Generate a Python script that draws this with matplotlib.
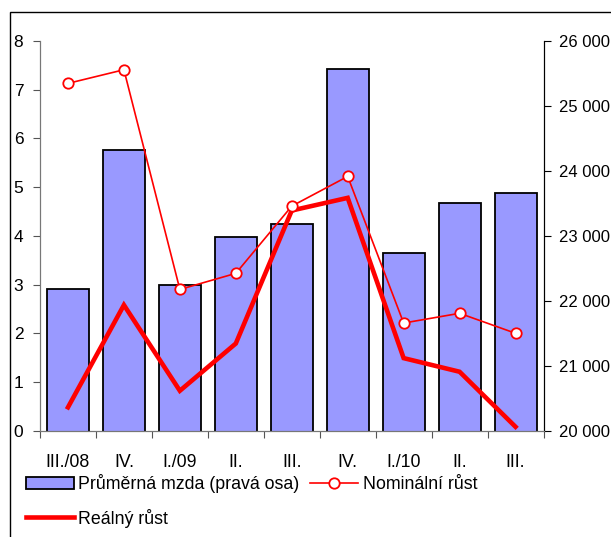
import numpy as np
import matplotlib
matplotlib.use('Agg')
import matplotlib.pyplot as plt
from matplotlib.patches import Rectangle

plt.rcParams['font.family'] = ['Liberation Sans', 'DejaVu Sans']
plt.rcParams['font.size'] = 12.8

quarters = ['III./08', 'IV.', 'I./09', 'II.', 'III.', 'IV.', 'I./10', 'II.', 'III.']
mzda = [22180, 24320, 22240, 22980, 23190, 25570, 22730, 23500, 23655]
nominalni = [7.13, 7.41, 2.90, 3.23, 4.61, 5.22, 2.21, 2.41, 2.00]
realny = [0.48, 2.58, 0.82, 1.79, 4.52, 4.78, 1.49, 1.21, 0.08]

W, H = 611, 537
fig = plt.figure(figsize=(W / 100, H / 100), dpi=100)
x0, x1, y0, y1 = 40, 543.5, 41, 430.7
ax = fig.add_axes([x0 / W, 1 - y1 / H, (x1 - x0) / W, (y1 - y0) / H])
ax2 = ax.twinx()

x = np.arange(len(quarters))

# bars on the right-hand axis
bars = ax.bar(x, mzda, width=0.75, bottom=0, color='#9999FF', edgecolor='black',
              linewidth=1.3, label='Průměrná mzda (pravá osa)')
ax.set_ylim(20000, 26000)
ax.set_yticks(range(20000, 26001, 1000))
ax.set_yticklabels([f'{v // 1000} 000' for v in range(20000, 26001, 1000)])
ax.yaxis.tick_right()
ax.set_xlim(-0.5, len(quarters) - 0.5)

# lines on the left-hand axis
l_real, = ax2.plot(x, realny, color='#FF0000', linewidth=3.3, solid_joinstyle='miter',
                   label='Reálný růst', zorder=3)
l_nom, = ax2.plot(x, nominalni, color='#FF0000', linewidth=1.2, marker='o', markersize=7.5,
                  markerfacecolor='white', markeredgecolor='#FF0000', markeredgewidth=1.3,
                  label='Nominální růst', zorder=4)
ax2.set_ylim(0, 8)
ax2.set_yticks(range(0, 9))
ax2.yaxis.tick_left()

# x ticks: marks at boundaries, labels in the middle
ax.set_xticks(np.arange(-0.5, len(quarters), 1))
ax.set_xticklabels([])
ax.set_xticks(x, minor=True)
ax.set_xticklabels(quarters, minor=True)
ax.tick_params(axis='x', which='major', direction='out', length=5, color='#555555')
ax.tick_params(axis='x', which='minor', length=0, pad=17)
ax.tick_params(axis='y', direction='out', length=5, pad=6, color='black', labelsize=12)
ax2.tick_params(axis='y', direction='out', length=5, pad=7, color='#555555', labelsize=12.5)

for a in (ax, ax2):
    a.spines['top'].set_visible(False)
    a.spines['left'].set_color('#777777')
    a.spines['bottom'].set_color('#777777')
    a.spines['right'].set_color('black')

fig.legend([bars, l_real, l_nom],
           ['Průměrná mzda (pravá osa)', 'Reálný růst', 'Nominální růst'],
           ncol=2, loc='upper left', bbox_to_anchor=(26 / W, 1 - 474 / H),
           frameon=False, borderpad=0, borderaxespad=0, handlelength=2.7,
           handletextpad=0.25, columnspacing=0.6, labelspacing=0.88, fontsize=12.8)

# outer frame of the original figure
fig.add_artist(Rectangle((10 / W, -0.1), 2, (1 - 12 / H) + 0.1, transform=fig.transFigure,
                         fill=False, edgecolor='black', linewidth=1.0))

fig.savefig('out.png', dpi=100)
